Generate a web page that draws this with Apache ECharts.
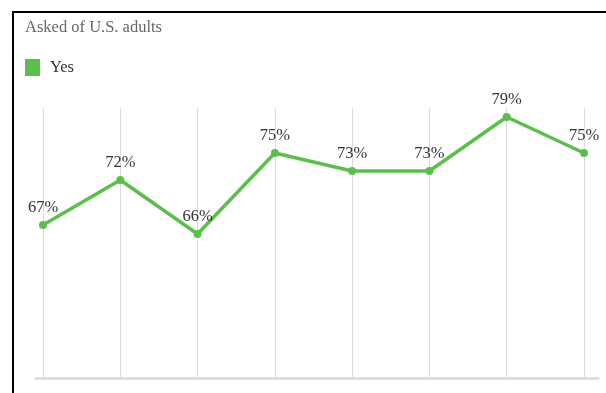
<!DOCTYPE html>
<html>
<head>
<meta charset="utf-8">
<script src="https://cdn.jsdelivr.net/npm/echarts@6/dist/echarts.min.js"></script>
<style>
html,body{margin:0;padding:0;background:#fff;}
#wrap{position:relative;width:606px;height:393px;}
#chart{position:absolute;left:0;top:0;width:606px;height:393px;}
#frame{position:absolute;left:12px;top:11px;width:600px;height:390px;border-left:2px solid #000;border-top:2px solid #000;pointer-events:none;}
</style>
</head>
<body>
<div id="wrap"><div id="chart"></div><div id="frame"></div></div>
<script>
var categories = ['1', '2', '3', '4', '5', '6', '7', '8'];
var yesValues = [67, 72, 66, 75, 73, 73, 79, 75];
var seriesName = 'Yes';
var subtitle = 'Asked of U.S. adults';

var green = '#5cbf4c';
var serif = '"Liberation Serif", "DejaVu Serif", serif';
var chart = echarts.init(document.getElementById('chart'), null, {renderer: 'canvas'});
chart.setOption({
  animation: false,
  title: {
    text: subtitle, left: 25, top: 19, padding: 0,
    textStyle: {fontFamily: serif, fontSize: 16.5, fontWeight: 'normal', color: '#666'}
  },
  legend: {
    data: [seriesName], left: 25, top: 59, padding: 0,
    icon: 'rect', itemWidth: 15, itemHeight: 17,
    textStyle: {fontFamily: serif, fontSize: 16.5, color: '#333', padding: [0, 0, 0, 5]}
  },
  grid: [
    {left: 43, right: 22, top: 108, bottom: 15},
    {left: 36, right: 8, top: 108, bottom: 15}
  ],
  xAxis: [
    {
      type: 'category', data: categories, boundaryGap: false, gridIndex: 0,
      axisLine: {show: false}, axisTick: {show: false}, axisLabel: {show: false},
      splitLine: {show: true, lineStyle: {color: '#dcdcdc', width: 1}}
    },
    {
      type: 'value', gridIndex: 1, min: 0, max: 1,
      axisLine: {show: true, lineStyle: {color: '#dedede', width: 3}},
      axisTick: {show: false}, axisLabel: {show: false}, splitLine: {show: false}
    }
  ],
  yAxis: [
    {type: 'value', min: 50, max: 80, gridIndex: 0, show: false, splitLine: {show: false}},
    {type: 'value', min: 0, max: 1, gridIndex: 1, show: false, splitLine: {show: false}}
  ],
  series: [{
    name: seriesName, type: 'line', data: yesValues,
    xAxisIndex: 0, yAxisIndex: 0,
    symbol: 'circle', symbolSize: 8,
    itemStyle: {color: green},
    lineStyle: {color: green, width: 3.5},
    label: {
      show: true, position: 'top', distance: 5,
      formatter: '{c}%', fontFamily: serif, fontSize: 16.5, color: '#333'
    }
  }]
});
</script>
</body>
</html>
